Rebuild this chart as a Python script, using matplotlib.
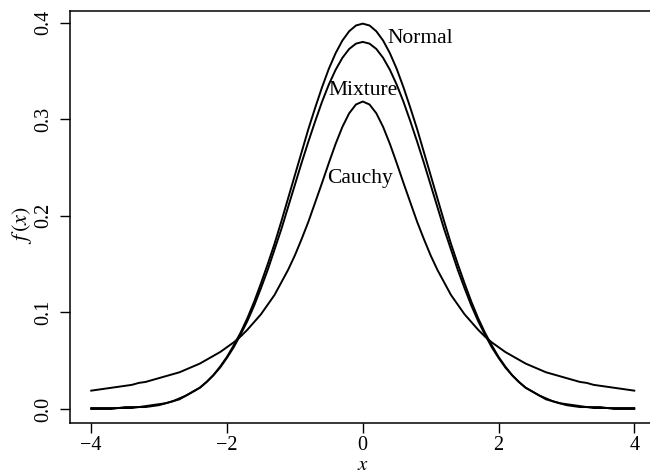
import matplotlib
matplotlib.use("Agg")
import matplotlib.pyplot as plt

plt.rcParams['font.family'] = ['Liberation Serif', 'DejaVu Serif']
plt.rcParams['mathtext.fontset'] = 'stix'

# x grid from -4 to 4 in steps of 0.1
x_vals = [round(-4 + 0.1 * i, 1) for i in range(81)]

normal = [0.000, 0.000, 0.000, 0.000, 0.001, 0.001, 0.001, 0.002, 0.002, 0.003,
          0.004, 0.006, 0.008, 0.010, 0.014, 0.018, 0.022, 0.028, 0.035, 0.044,
          0.054, 0.066, 0.079, 0.094, 0.111, 0.130, 0.150, 0.171, 0.194, 0.218,
          0.242, 0.266, 0.290, 0.312, 0.333, 0.3521, 0.3683, 0.3814, 0.3910, 0.3970,
          0.3989,
          0.3970, 0.3910, 0.3814, 0.3683, 0.3521, 0.333, 0.312, 0.290, 0.266, 0.242,
          0.218, 0.194, 0.171, 0.150, 0.130, 0.111, 0.094, 0.079, 0.066, 0.054,
          0.044, 0.035, 0.028, 0.022, 0.018, 0.014, 0.010, 0.008, 0.006, 0.004,
          0.003, 0.002, 0.002, 0.001, 0.001, 0.001, 0.000, 0.000, 0.000, 0.000]

mixture = [0.001, 0.001, 0.001, 0.001, 0.001, 0.002, 0.002, 0.002, 0.003, 0.004,
           0.005, 0.006, 0.008, 0.011, 0.014, 0.018, 0.022, 0.028, 0.035, 0.043,
           0.053, 0.064, 0.077, 0.091, 0.107, 0.125, 0.144, 0.165, 0.186, 0.209,
           0.232, 0.255, 0.277, 0.298, 0.318, 0.3358, 0.3511, 0.3635, 0.3727, 0.3782,
           0.3800,
           0.3782, 0.3727, 0.3635, 0.3511, 0.3358, 0.318, 0.298, 0.277, 0.255, 0.232,
           0.209, 0.186, 0.165, 0.144, 0.125, 0.107, 0.091, 0.077, 0.064, 0.053,
           0.043, 0.035, 0.028, 0.022, 0.018, 0.014, 0.011, 0.008, 0.006, 0.005,
           0.004, 0.003, 0.002, 0.002, 0.002, 0.001, 0.001, 0.001, 0.001, 0.001]

cauchy = [0.019, 0.020, 0.021, 0.022, 0.023, 0.024, 0.025, 0.027, 0.028, 0.030,
          0.032, 0.034, 0.036, 0.038, 0.041, 0.044, 0.047, 0.051, 0.055, 0.059,
          0.064, 0.069, 0.075, 0.082, 0.090, 0.098, 0.108, 0.118, 0.131, 0.144,
          0.159, 0.176, 0.194, 0.214, 0.234, 0.2546, 0.2744, 0.2920, 0.3061, 0.3152,
          0.3183,
          0.3152, 0.3061, 0.2920, 0.2744, 0.2546, 0.234, 0.214, 0.194, 0.176, 0.159,
          0.144, 0.131, 0.118, 0.108, 0.098, 0.090, 0.082, 0.075, 0.069, 0.064,
          0.059, 0.055, 0.051, 0.047, 0.044, 0.041, 0.038, 0.036, 0.034, 0.032,
          0.030, 0.028, 0.027, 0.025, 0.024, 0.023, 0.022, 0.021, 0.020, 0.019]

labels = ["Normal", "Mixture", "Cauchy"]
x_ticks = [-4, -2, 0, 2, 4]
x_tick_labels = ['\u22124', '\u22122', '0', '2', '4']
y_ticks = [0.0, 0.1, 0.2, 0.3, 0.4]
y_tick_labels = ['0.0', '0.1', '0.2', '0.3', '0.4']

fig = plt.figure(figsize=(6.5, 4.75), dpi=100)
ax = fig.add_axes([69.5 / 650, 1 - 423 / 475, (656 - 69.5) / 650, (423 - 10.7) / 475])

for series in (normal, mixture, cauchy):
    ax.plot(x_vals, series, color='black', lw=1.4, solid_joinstyle='round')

ax.set_xlim(-4.32, 4.32)
ax.set_ylim(-0.0145, 0.4123)

ax.set_xticks(x_ticks)
ax.set_xticklabels(x_tick_labels)
ax.set_yticks(y_ticks)
ax.set_yticklabels(y_tick_labels, rotation=90, va='center')
ax.tick_params(axis='both', direction='out', length=7, width=1, labelsize=14.5, color='black')
ax.tick_params(axis='x', pad=2.5)
ax.tick_params(axis='y', pad=5)
for s in ax.spines.values():
    s.set_linewidth(1.1)
ax.spines['right'].set_visible(False)

ax.text(0.37, 0.384, labels[0], fontsize=15.5, ha='left', va='center')
ax.text(0.0, 0.3295, labels[1], fontsize=15.5, ha='center', va='center')
ax.text(-0.04, 0.239, labels[2], fontsize=15.5, ha='center', va='center')

fig.text(363 / 650, 0.5 / 475, r'$x$', fontsize=15, ha='center', va='bottom')
fig.text(22 / 650, 1 - 225 / 475, r'$f\,(x)$', fontsize=16, ha='center', va='center', rotation=90)

fig.savefig('out.png', dpi=100)
